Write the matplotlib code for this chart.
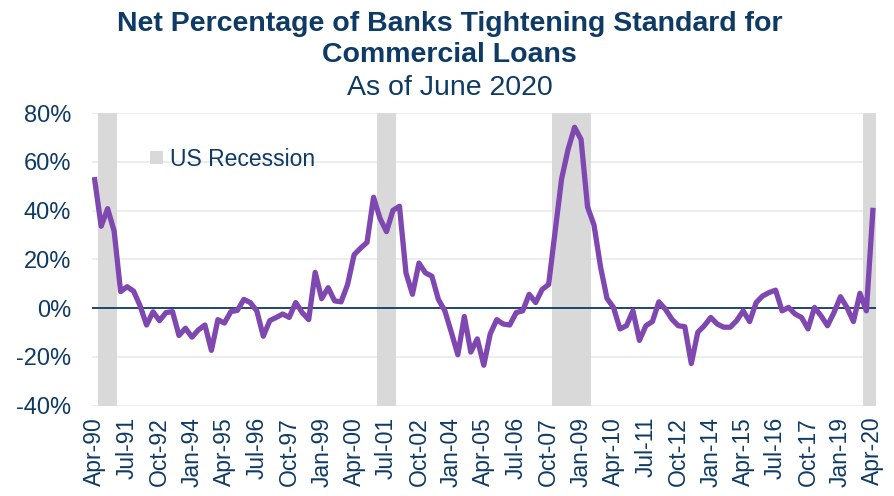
import numpy as np
import matplotlib.pyplot as plt

plt.rcParams['font.family'] = ['Liberation Sans', 'DejaVu Sans']

# quarterly, Apr-90 .. Apr-20
net_tightening = [
    52.7, 33.6, 40.8, 31.6, 6.8, 8.8, 7.0, 1.0, -6.9, -1.5,
    -5.1, -1.8, -1.4, -11.2, -8.2, -11.9, -8.9, -6.9, -17.3, -4.7,
    -6.1, -1.4, -0.9, 3.6, 2.3, -1.1, -11.5, -5.1, -3.8, -2.4,
    -3.8, 2.3, -1.8, -4.7, 14.7, 3.9, 8.4, 3.0, 2.6, 9.7,
    21.9, 24.6, 27.0, 45.5, 36.8, 31.4, 40.1, 41.8, 14.5, 5.7,
    18.5, 14.5, 13.1, 3.6, -1.1, -9.9, -19.1, -3.4, -18.0, -12.6,
    -23.4, -10.5, -4.7, -6.5, -6.9, -1.8, -1.1, 5.7, 2.3, 7.7,
    9.7, 31.4, 53.0, 65.1, 74.2, 69.2, 41.5, 34.1, 17.0, 4.0,
    0.3, -8.5, -7.2, -1.1, -13.2, -7.2, -5.5, 2.6, -0.4, -4.5,
    -7.2, -7.6, -22.7, -9.9, -7.2, -3.8, -6.5, -7.8, -7.8, -5.1,
    -1.1, -5.5, 2.3, 5.0, 6.4, 7.4, -1.1, 0.3, -2.4, -3.8,
    -8.5, 0.3, -3.1, -7.2, -1.8, 4.7, 0.3, -5.5, 6.1, -1.1,
    40.1,
]
# recession quarters (index from Apr-90)
recession_idx = [1, 2, 3, 44, 45, 46, 71, 72, 73, 74, 75, 76, 119, 120]
tick_labels = ['Apr-90', 'Jul-91', 'Oct-92', 'Jan-94', 'Apr-95', 'Jul-96',
               'Oct-97', 'Jan-99', 'Apr-00', 'Jul-01', 'Oct-02', 'Jan-04',
               'Apr-05', 'Jul-06', 'Oct-07', 'Jan-09', 'Apr-10', 'Jul-11',
               'Oct-12', 'Jan-14', 'Apr-15', 'Jul-16', 'Oct-17', 'Jan-19',
               'Apr-20']

navy = '#0E3A66'
x = np.arange(len(net_tightening))

fig = plt.figure(figsize=(8.94, 4.96), dpi=100)
ax = fig.add_axes([0.103, 0.182, 0.877, 0.590])

ax.bar(recession_idx, [120] * len(recession_idx), bottom=-40, width=1.0,
       color='#D9D9D9', label='US Recession', zorder=1)
ax.axhline(0, color=navy, lw=1.3, zorder=2)
ax.plot(x, net_tightening, color='#7F48B0', lw=3.8, zorder=3,
        solid_joinstyle='round')

ax.set_xlim(-0.4, 120.5)
ax.set_ylim(-40, 80)
ax.set_yticks(np.arange(-40, 81, 20))
ax.set_yticklabels(['%d%%' % v for v in range(-40, 81, 20)])
ax.set_xticks(np.arange(0, 121, 5))
ax.set_xticklabels(tick_labels, rotation=90)
ax.tick_params(axis='y', labelsize=17, labelcolor=navy, length=0, pad=15)
ax.tick_params(axis='x', labelsize=16.5, labelcolor=navy, length=0, pad=8)
ax.grid(axis='y', color='#EAEAEA', lw=1.2, zorder=0)
ax.set_axisbelow(True)
for s in ax.spines.values():
    s.set_visible(False)

ax.legend(loc='center left', bbox_to_anchor=(0.074, 0.843), frameon=False,
          fontsize=16.5, labelcolor=navy, handlelength=0.55, handleheight=0.55,
          handletextpad=0.3, borderaxespad=0, borderpad=0)

fig.text(0.503, 0.9375, 'Net Percentage of Banks Tightening Standard for',
         ha='center', va='baseline', fontsize=20.5, fontweight='bold', color=navy)
fig.text(0.503, 0.875, 'Commercial Loans',
         ha='center', va='baseline', fontsize=20.5, fontweight='bold', color=navy)
fig.text(0.503, 0.8085, 'As of June 2020', ha='center', va='baseline',
         fontsize=20.5, color=navy)

fig.savefig('out.png', dpi=100)
